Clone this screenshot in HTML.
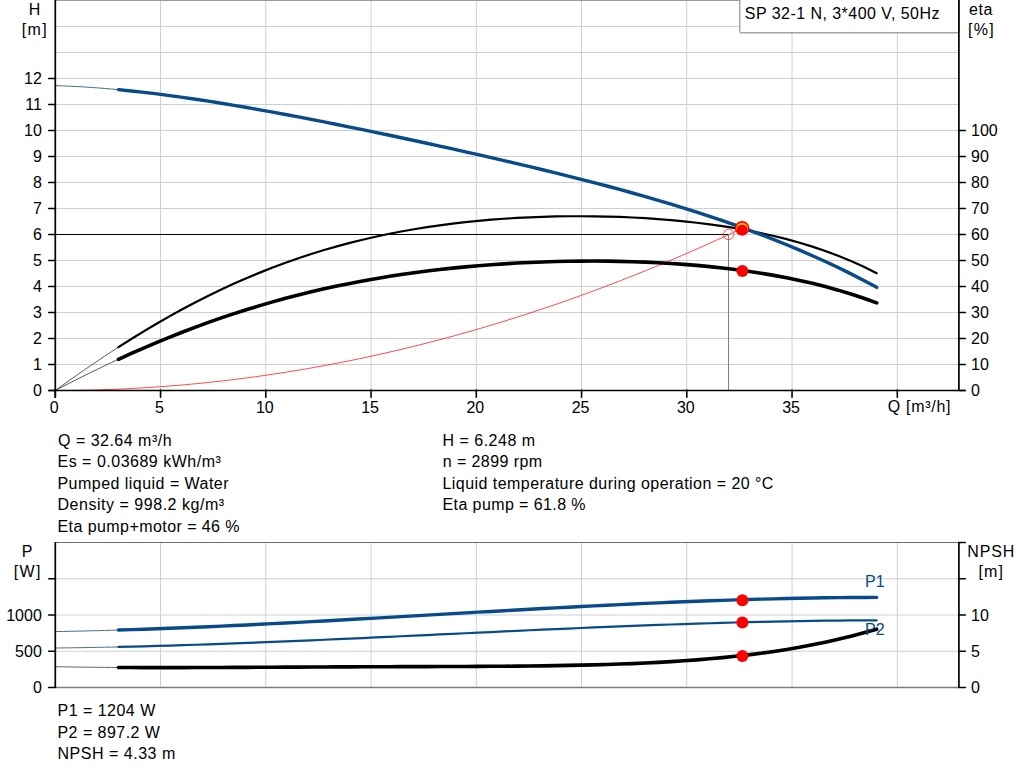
<!DOCTYPE html>
<html><head><meta charset="utf-8"><style>
html,body{margin:0;padding:0;background:#fff;width:1024px;height:781px;overflow:hidden}
svg{display:block}
text{font-family:"Liberation Sans", sans-serif}
</style></head><body>
<svg width="1024" height="781" viewBox="0 0 1024 781">
<line x1="160.55" y1="0" x2="160.55" y2="390" stroke="#cdd0d2" stroke-width="1"/>
<line x1="265.80" y1="0" x2="265.80" y2="390" stroke="#cdd0d2" stroke-width="1"/>
<line x1="371.05" y1="0" x2="371.05" y2="390" stroke="#cdd0d2" stroke-width="1"/>
<line x1="476.30" y1="0" x2="476.30" y2="390" stroke="#cdd0d2" stroke-width="1"/>
<line x1="581.55" y1="0" x2="581.55" y2="390" stroke="#cdd0d2" stroke-width="1"/>
<line x1="686.80" y1="0" x2="686.80" y2="390" stroke="#cdd0d2" stroke-width="1"/>
<line x1="792.05" y1="0" x2="792.05" y2="390" stroke="#cdd0d2" stroke-width="1"/>
<line x1="897.30" y1="0" x2="897.30" y2="390" stroke="#cdd0d2" stroke-width="1"/>
<line x1="55" y1="364.5" x2="959" y2="364.5" stroke="#cdd0d2" stroke-width="1"/>
<line x1="55" y1="338.5" x2="959" y2="338.5" stroke="#cdd0d2" stroke-width="1"/>
<line x1="55" y1="312.5" x2="959" y2="312.5" stroke="#cdd0d2" stroke-width="1"/>
<line x1="55" y1="286.5" x2="959" y2="286.5" stroke="#cdd0d2" stroke-width="1"/>
<line x1="55" y1="260.5" x2="959" y2="260.5" stroke="#cdd0d2" stroke-width="1"/>
<line x1="55" y1="234.5" x2="959" y2="234.5" stroke="#cdd0d2" stroke-width="1"/>
<line x1="55" y1="208.5" x2="959" y2="208.5" stroke="#cdd0d2" stroke-width="1"/>
<line x1="55" y1="182.5" x2="959" y2="182.5" stroke="#cdd0d2" stroke-width="1"/>
<line x1="55" y1="156.5" x2="959" y2="156.5" stroke="#cdd0d2" stroke-width="1"/>
<line x1="55" y1="130.5" x2="959" y2="130.5" stroke="#cdd0d2" stroke-width="1"/>
<line x1="55" y1="104.5" x2="959" y2="104.5" stroke="#cdd0d2" stroke-width="1"/>
<line x1="55" y1="78.5" x2="959" y2="78.5" stroke="#cdd0d2" stroke-width="1"/>
<line x1="55" y1="52.5" x2="959" y2="52.5" stroke="#cdd0d2" stroke-width="1"/>
<line x1="55" y1="26.5" x2="959" y2="26.5" stroke="#cdd0d2" stroke-width="1"/>
<line x1="55" y1="0.5" x2="959" y2="0.5" stroke="#999b9d" stroke-width="1"/>
<rect x="739.8" y="-2" width="219.2" height="34.8" rx="1.2" fill="#fff" stroke="#a2a3a4" stroke-width="1.4"/>
<text x="744.87" y="18.5" font-size="16" textLength="194.52" lengthAdjust="spacing">SP 32-1 N, 3*400 V, 50Hz</text>
<path d="M55.30,390.50 L64.00,390.47 L72.69,390.40 L81.39,390.27 L90.09,390.08 L98.79,389.85 L107.48,389.56 L116.18,389.23 L124.88,388.84 L133.57,388.39 L142.27,387.90 L150.97,387.35 L159.67,386.76 L168.36,386.11 L177.06,385.40 L185.76,384.65 L194.45,383.84 L203.15,382.98 L211.85,382.07 L220.55,381.11 L229.24,380.10 L237.94,379.03 L246.64,377.91 L255.33,376.74 L264.03,375.52 L272.73,374.25 L281.42,372.92 L290.12,371.54 L298.82,370.11 L307.52,368.63 L316.21,367.09 L324.91,365.51 L333.61,363.87 L342.30,362.18 L351.00,360.44 L359.70,358.64 L368.40,356.80 L377.09,354.90 L385.79,352.95 L394.49,350.95 L403.18,348.89 L411.88,346.78 L420.58,344.63 L429.28,342.42 L437.97,340.15 L446.67,337.84 L455.37,335.47 L464.06,333.05 L472.76,330.58 L481.46,328.06 L490.16,325.49 L498.85,322.86 L507.55,320.18 L516.25,317.45 L524.94,314.67 L533.64,311.83 L542.34,308.95 L551.04,306.01 L559.73,303.02 L568.43,299.97 L577.13,296.88 L585.82,293.73 L594.52,290.53 L603.22,287.28 L611.92,283.98 L620.61,280.63 L629.31,277.22 L638.01,273.76 L646.70,270.25 L655.40,266.69 L664.10,263.07 L672.80,259.40 L681.49,255.69 L690.19,251.91 L698.89,248.09 L707.58,244.22 L716.28,240.29 L724.98,236.31 L733.67,232.28 L742.37,228.20" fill="none" stroke="#ff2020" stroke-width="0.9" stroke-opacity="0.9"/>
<line x1="55" y1="234.5" x2="728.5" y2="234.5" stroke="#000" stroke-width="1"/>
<line x1="728.5" y1="234.5" x2="728.5" y2="390" stroke="#808080" stroke-width="1"/>
<circle cx="728.6" cy="234.5" r="5.2" fill="none" stroke="#ff4040" stroke-width="0.9"/>
<path d="M55.30,85.63 L62.32,85.87 L69.33,86.17 L76.35,86.52 L83.37,86.92 L90.38,87.38 L97.40,87.88 L104.42,88.44 L111.43,89.04 L118.45,89.68" fill="none" stroke="#3d5a7a" stroke-width="0.9"/>
<path d="M55.30,390.50 L62.32,385.45 L69.33,380.45 L76.35,375.51 L83.37,370.62 L90.38,365.80 L97.40,361.04 L104.42,356.34 L111.43,351.72 L118.45,347.16" fill="none" stroke="#444" stroke-width="0.9"/>
<path d="M55.30,390.50 L62.32,386.84 L69.33,383.23 L76.35,379.66 L83.37,376.14 L90.38,372.67 L97.40,369.25 L104.42,365.88 L111.43,362.56 L118.45,359.29" fill="none" stroke="#444" stroke-width="0.9"/>
<path d="M118.45,359.29 L131.30,353.45 L144.15,347.80 L157.00,342.33 L169.85,337.05 L182.71,331.97 L195.56,327.09 L208.41,322.40 L221.26,317.90 L234.11,313.61 L246.96,309.50 L259.81,305.60 L272.66,301.88 L285.52,298.35 L298.37,295.01 L311.22,291.85 L324.07,288.87 L336.92,286.07 L349.77,283.44 L362.62,280.98 L375.47,278.68 L388.33,276.54 L401.18,274.56 L414.03,272.73 L426.88,271.05 L439.73,269.51 L452.58,268.11 L465.43,266.84 L478.28,265.71 L491.13,264.71 L503.99,263.83 L516.84,263.07 L529.69,262.44 L542.54,261.93 L555.39,261.54 L568.24,261.26 L581.09,261.11 L593.94,261.07 L606.80,261.15 L619.65,261.36 L632.50,261.69 L645.35,262.15 L658.20,262.75 L671.05,263.49 L683.90,264.37 L696.75,265.40 L709.61,266.60 L722.46,267.96 L735.31,269.51 L748.16,271.25 L761.01,273.20 L773.86,275.37 L786.71,277.78 L799.56,280.44 L812.41,283.37 L825.27,286.60 L838.12,290.14 L850.97,294.01 L863.82,298.24 L876.67,302.86" fill="none" stroke="#000" stroke-width="3.6" stroke-linecap="round"/>
<path d="M118.45,347.16 L131.30,339.01 L144.15,331.12 L157.00,323.49 L169.85,316.13 L182.71,309.05 L195.56,302.26 L208.41,295.75 L221.26,289.53 L234.11,283.60 L246.96,277.96 L259.81,272.61 L272.66,267.55 L285.52,262.76 L298.37,258.26 L311.22,254.02 L324.07,250.06 L336.92,246.36 L349.77,242.91 L362.62,239.71 L375.47,236.75 L388.33,234.03 L401.18,231.53 L414.03,229.24 L426.88,227.17 L439.73,225.30 L452.58,223.63 L465.43,222.14 L478.28,220.84 L491.13,219.71 L503.99,218.74 L516.84,217.94 L529.69,217.30 L542.54,216.81 L555.39,216.47 L568.24,216.27 L581.09,216.23 L593.94,216.32 L606.80,216.57 L619.65,216.96 L632.50,217.51 L645.35,218.21 L658.20,219.07 L671.05,220.11 L683.90,221.32 L696.75,222.72 L709.61,224.33 L722.46,226.15 L735.31,228.21 L748.16,230.52 L761.01,233.10 L773.86,235.98 L786.71,239.18 L799.56,242.73 L812.41,246.66 L825.27,251.00 L838.12,255.79 L850.97,261.06 L863.82,266.86 L876.67,273.22" fill="none" stroke="#000" stroke-width="2.2" stroke-linecap="round"/>
<path d="M118.45,89.68 L131.30,90.97 L144.15,92.39 L157.00,93.93 L169.85,95.59 L182.71,97.36 L195.56,99.23 L208.41,101.19 L221.26,103.23 L234.11,105.35 L246.96,107.54 L259.81,109.80 L272.66,112.12 L285.52,114.50 L298.37,116.92 L311.22,119.39 L324.07,121.91 L336.92,124.46 L349.77,127.06 L362.62,129.68 L375.47,132.34 L388.33,135.03 L401.18,137.75 L414.03,140.50 L426.88,143.28 L439.73,146.09 L452.58,148.92 L465.43,151.79 L478.28,154.69 L491.13,157.62 L503.99,160.58 L516.84,163.59 L529.69,166.64 L542.54,169.73 L555.39,172.87 L568.24,176.06 L581.09,179.31 L593.94,182.63 L606.80,186.01 L619.65,189.47 L632.50,193.01 L645.35,196.63 L658.20,200.36 L671.05,204.18 L683.90,208.12 L696.75,212.17 L709.61,216.36 L722.46,220.68 L735.31,225.15 L748.16,229.79 L761.01,234.58 L773.86,239.56 L786.71,244.73 L799.56,250.11 L812.41,255.70 L825.27,261.52 L838.12,267.58 L850.97,273.90 L863.82,280.49 L876.67,287.36" fill="none" stroke="#084a8a" stroke-width="3.4" stroke-linecap="round"/>
<circle cx="742.1" cy="228.2" r="7.3" fill="#ff0000"/>
<circle cx="742.1" cy="228.5" r="5.8" fill="#ffe000"/>
<circle cx="742.1" cy="230.0" r="5.6" fill="#ff0000"/>
<circle cx="742.37" cy="270.90" r="6" fill="#ff0000"/>
<line x1="55.3" y1="0" x2="55.3" y2="397.2" stroke="#000" stroke-width="1.7" stroke-linecap="round"/>
<line x1="958.9" y1="0" x2="958.9" y2="390.5" stroke="#000" stroke-width="1.7"/>
<line x1="48.7" y1="390.5" x2="965.3" y2="390.5" stroke="#000" stroke-width="1.5" stroke-linecap="round"/>
<line x1="48.7" y1="390.5" x2="55" y2="390.5" stroke="#000" stroke-width="1.6" stroke-linecap="round"/>
<text x="41.8" y="396.30" font-size="16" text-anchor="end">0</text>
<line x1="48.7" y1="364.5" x2="55" y2="364.5" stroke="#000" stroke-width="1.6" stroke-linecap="round"/>
<text x="41.8" y="370.30" font-size="16" text-anchor="end">1</text>
<line x1="48.7" y1="338.5" x2="55" y2="338.5" stroke="#000" stroke-width="1.6" stroke-linecap="round"/>
<text x="41.8" y="344.30" font-size="16" text-anchor="end">2</text>
<line x1="48.7" y1="312.5" x2="55" y2="312.5" stroke="#000" stroke-width="1.6" stroke-linecap="round"/>
<text x="41.8" y="318.30" font-size="16" text-anchor="end">3</text>
<line x1="48.7" y1="286.5" x2="55" y2="286.5" stroke="#000" stroke-width="1.6" stroke-linecap="round"/>
<text x="41.8" y="292.30" font-size="16" text-anchor="end">4</text>
<line x1="48.7" y1="260.5" x2="55" y2="260.5" stroke="#000" stroke-width="1.6" stroke-linecap="round"/>
<text x="41.8" y="266.30" font-size="16" text-anchor="end">5</text>
<line x1="48.7" y1="234.5" x2="55" y2="234.5" stroke="#000" stroke-width="1.6" stroke-linecap="round"/>
<text x="41.8" y="240.30" font-size="16" text-anchor="end">6</text>
<line x1="48.7" y1="208.5" x2="55" y2="208.5" stroke="#000" stroke-width="1.6" stroke-linecap="round"/>
<text x="41.8" y="214.30" font-size="16" text-anchor="end">7</text>
<line x1="48.7" y1="182.5" x2="55" y2="182.5" stroke="#000" stroke-width="1.6" stroke-linecap="round"/>
<text x="41.8" y="188.30" font-size="16" text-anchor="end">8</text>
<line x1="48.7" y1="156.5" x2="55" y2="156.5" stroke="#000" stroke-width="1.6" stroke-linecap="round"/>
<text x="41.8" y="162.30" font-size="16" text-anchor="end">9</text>
<line x1="48.7" y1="130.5" x2="55" y2="130.5" stroke="#000" stroke-width="1.6" stroke-linecap="round"/>
<text x="41.8" y="136.30" font-size="16" text-anchor="end">10</text>
<line x1="48.7" y1="104.5" x2="55" y2="104.5" stroke="#000" stroke-width="1.6" stroke-linecap="round"/>
<text x="41.8" y="110.30" font-size="16" text-anchor="end">11</text>
<line x1="48.7" y1="78.5" x2="55" y2="78.5" stroke="#000" stroke-width="1.6" stroke-linecap="round"/>
<text x="41.8" y="84.30" font-size="16" text-anchor="end">12</text>
<line x1="959" y1="390.5" x2="965.3" y2="390.5" stroke="#000" stroke-width="1.6" stroke-linecap="round"/>
<text x="971" y="396.30" font-size="16">0</text>
<line x1="959" y1="364.5" x2="965.3" y2="364.5" stroke="#000" stroke-width="1.6" stroke-linecap="round"/>
<text x="971" y="370.30" font-size="16">10</text>
<line x1="959" y1="338.5" x2="965.3" y2="338.5" stroke="#000" stroke-width="1.6" stroke-linecap="round"/>
<text x="971" y="344.30" font-size="16">20</text>
<line x1="959" y1="312.5" x2="965.3" y2="312.5" stroke="#000" stroke-width="1.6" stroke-linecap="round"/>
<text x="971" y="318.30" font-size="16">30</text>
<line x1="959" y1="286.5" x2="965.3" y2="286.5" stroke="#000" stroke-width="1.6" stroke-linecap="round"/>
<text x="971" y="292.30" font-size="16">40</text>
<line x1="959" y1="260.5" x2="965.3" y2="260.5" stroke="#000" stroke-width="1.6" stroke-linecap="round"/>
<text x="971" y="266.30" font-size="16">50</text>
<line x1="959" y1="234.5" x2="965.3" y2="234.5" stroke="#000" stroke-width="1.6" stroke-linecap="round"/>
<text x="971" y="240.30" font-size="16">60</text>
<line x1="959" y1="208.5" x2="965.3" y2="208.5" stroke="#000" stroke-width="1.6" stroke-linecap="round"/>
<text x="971" y="214.30" font-size="16">70</text>
<line x1="959" y1="182.5" x2="965.3" y2="182.5" stroke="#000" stroke-width="1.6" stroke-linecap="round"/>
<text x="971" y="188.30" font-size="16">80</text>
<line x1="959" y1="156.5" x2="965.3" y2="156.5" stroke="#000" stroke-width="1.6" stroke-linecap="round"/>
<text x="971" y="162.30" font-size="16">90</text>
<line x1="959" y1="130.5" x2="965.3" y2="130.5" stroke="#000" stroke-width="1.6" stroke-linecap="round"/>
<text x="971" y="136.30" font-size="16">100</text>
<line x1="55.30" y1="390" x2="55.30" y2="397.2" stroke="#000" stroke-width="1.6" stroke-linecap="round"/>
<text x="54.30" y="412.5" font-size="16" text-anchor="middle">0</text>
<line x1="160.55" y1="390" x2="160.55" y2="397.2" stroke="#000" stroke-width="1.6" stroke-linecap="round"/>
<text x="159.55" y="412.5" font-size="16" text-anchor="middle">5</text>
<line x1="265.80" y1="390" x2="265.80" y2="397.2" stroke="#000" stroke-width="1.6" stroke-linecap="round"/>
<text x="264.80" y="412.5" font-size="16" text-anchor="middle">10</text>
<line x1="371.05" y1="390" x2="371.05" y2="397.2" stroke="#000" stroke-width="1.6" stroke-linecap="round"/>
<text x="370.05" y="412.5" font-size="16" text-anchor="middle">15</text>
<line x1="476.30" y1="390" x2="476.30" y2="397.2" stroke="#000" stroke-width="1.6" stroke-linecap="round"/>
<text x="475.30" y="412.5" font-size="16" text-anchor="middle">20</text>
<line x1="581.55" y1="390" x2="581.55" y2="397.2" stroke="#000" stroke-width="1.6" stroke-linecap="round"/>
<text x="580.55" y="412.5" font-size="16" text-anchor="middle">25</text>
<line x1="686.80" y1="390" x2="686.80" y2="397.2" stroke="#000" stroke-width="1.6" stroke-linecap="round"/>
<text x="685.80" y="412.5" font-size="16" text-anchor="middle">30</text>
<line x1="792.05" y1="390" x2="792.05" y2="397.2" stroke="#000" stroke-width="1.6" stroke-linecap="round"/>
<text x="791.05" y="412.5" font-size="16" text-anchor="middle">35</text>
<line x1="897.30" y1="390" x2="897.30" y2="397.2" stroke="#000" stroke-width="1.6" stroke-linecap="round"/>
<text x="887.64" y="412.2" font-size="16" textLength="62.90" lengthAdjust="spacing">Q [m³/h]</text>
<text x="28.82" y="14.7" font-size="16" textLength="11.55" lengthAdjust="spacing">H</text>
<text x="21.86" y="34.6" font-size="16" textLength="24.78" lengthAdjust="spacing">[m]</text>
<text x="969.02" y="14.7" font-size="16" textLength="23.48" lengthAdjust="spacing">eta</text>
<text x="968.06" y="34.6" font-size="16" textLength="25.58" lengthAdjust="spacing">[%]</text>
<text x="58.04" y="445.5" font-size="16" textLength="113.50" lengthAdjust="spacing">Q = 32.64 m³/h</text>
<text x="57.49" y="466.9" font-size="16" textLength="163.32" lengthAdjust="spacing">Es = 0.03689 kWh/m³</text>
<text x="57.49" y="488.5" font-size="16" textLength="171.08" lengthAdjust="spacing">Pumped liquid = Water</text>
<text x="57.49" y="510.0" font-size="16" textLength="166.62" lengthAdjust="spacing">Density = 998.2 kg/m³</text>
<text x="57.49" y="531.7" font-size="16" textLength="182.08" lengthAdjust="spacing">Eta pump+motor = 46 %</text>
<text x="442.49" y="445.5" font-size="16" textLength="92.57" lengthAdjust="spacing">H = 6.248 m</text>
<text x="442.74" y="466.9" font-size="16" textLength="99.32" lengthAdjust="spacing">n = 2899 rpm</text>
<text x="442.49" y="488.5" font-size="16" textLength="330.92" lengthAdjust="spacing">Liquid temperature during operation = 20 °C</text>
<text x="442.49" y="510.0" font-size="16" textLength="143.08" lengthAdjust="spacing">Eta pump = 61.8 %</text>
<line x1="160.55" y1="542.5" x2="160.55" y2="687" stroke="#cdd0d2" stroke-width="1"/>
<line x1="265.80" y1="542.5" x2="265.80" y2="687" stroke="#cdd0d2" stroke-width="1"/>
<line x1="371.05" y1="542.5" x2="371.05" y2="687" stroke="#cdd0d2" stroke-width="1"/>
<line x1="476.30" y1="542.5" x2="476.30" y2="687" stroke="#cdd0d2" stroke-width="1"/>
<line x1="581.55" y1="542.5" x2="581.55" y2="687" stroke="#cdd0d2" stroke-width="1"/>
<line x1="686.80" y1="542.5" x2="686.80" y2="687" stroke="#cdd0d2" stroke-width="1"/>
<line x1="792.05" y1="542.5" x2="792.05" y2="687" stroke="#cdd0d2" stroke-width="1"/>
<line x1="897.30" y1="542.5" x2="897.30" y2="687" stroke="#cdd0d2" stroke-width="1"/>
<line x1="55" y1="651.25" x2="959" y2="651.25" stroke="#cdd0d2" stroke-width="1"/>
<line x1="55" y1="615.0" x2="959" y2="615.0" stroke="#cdd0d2" stroke-width="1"/>
<line x1="55" y1="578.75" x2="959" y2="578.75" stroke="#cdd0d2" stroke-width="1"/>
<line x1="55" y1="542.5" x2="959" y2="542.5" stroke="#6a6d6f" stroke-width="1.2"/>
<line x1="55" y1="687.5" x2="959" y2="687.5" stroke="#7a7c7e" stroke-width="1.4"/>
<path d="M55.30,631.59 L62.32,631.46 L69.33,631.32 L76.35,631.17 L83.37,631.01 L90.38,630.84 L97.40,630.66 L104.42,630.47 L111.43,630.27 L118.45,630.07" fill="none" stroke="#3d5a7a" stroke-width="0.9"/>
<path d="M55.30,648.02 L62.32,647.93 L69.33,647.83 L76.35,647.73 L83.37,647.61 L90.38,647.49 L97.40,647.36 L104.42,647.22 L111.43,647.08 L118.45,646.92" fill="none" stroke="#3d5a7a" stroke-width="0.9"/>
<path d="M55.30,666.71 L62.32,666.84 L69.33,666.96 L76.35,667.06 L83.37,667.16 L90.38,667.24 L97.40,667.31 L104.42,667.38 L111.43,667.43 L118.45,667.48" fill="none" stroke="#555" stroke-width="0.9"/>
<path d="M118.45,630.07 L131.30,629.67 L144.15,629.24 L157.00,628.78 L169.85,628.30 L182.71,627.80 L195.56,627.27 L208.41,626.72 L221.26,626.15 L234.11,625.55 L246.96,624.94 L259.81,624.32 L272.66,623.67 L285.52,623.02 L298.37,622.34 L311.22,621.66 L324.07,620.96 L336.92,620.26 L349.77,619.54 L362.62,618.82 L375.47,618.09 L388.33,617.36 L401.18,616.62 L414.03,615.88 L426.88,615.14 L439.73,614.39 L452.58,613.65 L465.43,612.91 L478.28,612.17 L491.13,611.44 L503.99,610.71 L516.84,609.99 L529.69,609.28 L542.54,608.57 L555.39,607.88 L568.24,607.20 L581.09,606.53 L593.94,605.87 L606.80,605.23 L619.65,604.61 L632.50,604.00 L645.35,603.42 L658.20,602.85 L671.05,602.30 L683.90,601.78 L696.75,601.28 L709.61,600.80 L722.46,600.35 L735.31,599.92 L748.16,599.53 L761.01,599.16 L773.86,598.83 L786.71,598.53 L799.56,598.26 L812.41,598.02 L825.27,597.82 L838.12,597.66 L850.97,597.53 L863.82,597.45 L876.67,597.40" fill="none" stroke="#084a8a" stroke-width="3.4" stroke-linecap="round"/>
<path d="M118.45,646.92 L131.30,646.62 L144.15,646.30 L157.00,645.95 L169.85,645.58 L182.71,645.18 L195.56,644.77 L208.41,644.34 L221.26,643.89 L234.11,643.43 L246.96,642.94 L259.81,642.45 L272.66,641.94 L285.52,641.41 L298.37,640.87 L311.22,640.33 L324.07,639.77 L336.92,639.20 L349.77,638.62 L362.62,638.04 L375.47,637.45 L388.33,636.86 L401.18,636.26 L414.03,635.66 L426.88,635.05 L439.73,634.45 L452.58,633.84 L465.43,633.24 L478.28,632.64 L491.13,632.04 L503.99,631.44 L516.84,630.85 L529.69,630.26 L542.54,629.68 L555.39,629.11 L568.24,628.55 L581.09,628.00 L593.94,627.46 L606.80,626.93 L619.65,626.41 L632.50,625.91 L645.35,625.42 L658.20,624.95 L671.05,624.49 L683.90,624.05 L696.75,623.63 L709.61,623.23 L722.46,622.85 L735.31,622.50 L748.16,622.16 L761.01,621.85 L773.86,621.56 L786.71,621.30 L799.56,621.07 L812.41,620.86 L825.27,620.69 L838.12,620.54 L850.97,620.42 L863.82,620.34 L876.67,620.28" fill="none" stroke="#084a8a" stroke-width="2.2" stroke-linecap="round"/>
<path d="M118.45,667.48 L131.30,667.54 L144.15,667.58 L157.00,667.60 L169.85,667.60 L182.71,667.58 L195.56,667.55 L208.41,667.51 L221.26,667.46 L234.11,667.40 L246.96,667.34 L259.81,667.27 L272.66,667.21 L285.52,667.14 L298.37,667.08 L311.22,667.01 L324.07,666.95 L336.92,666.90 L349.77,666.84 L362.62,666.79 L375.47,666.75 L388.33,666.70 L401.18,666.66 L414.03,666.62 L426.88,666.58 L439.73,666.54 L452.58,666.49 L465.43,666.44 L478.28,666.38 L491.13,666.30 L503.99,666.21 L516.84,666.11 L529.69,665.98 L542.54,665.83 L555.39,665.64 L568.24,665.42 L581.09,665.16 L593.94,664.85 L606.80,664.49 L619.65,664.07 L632.50,663.58 L645.35,663.02 L658.20,662.38 L671.05,661.64 L683.90,660.81 L696.75,659.87 L709.61,658.82 L722.46,657.63 L735.31,656.31 L748.16,654.84 L761.01,653.21 L773.86,651.41 L786.71,649.42 L799.56,647.24 L812.41,644.84 L825.27,642.22 L838.12,639.36 L850.97,636.24 L863.82,632.85 L876.67,629.18" fill="none" stroke="#000" stroke-width="3.6" stroke-linecap="round"/>
<circle cx="742.37" cy="600.21" r="6" fill="#ff0000"/>
<circle cx="742.37" cy="622.45" r="6" fill="#ff0000"/>
<circle cx="742.37" cy="656.11" r="6" fill="#ff0000"/>
<text x="865" y="586.5" font-size="16" fill="#084a8a">P1</text>
<text x="865" y="634.5" font-size="16" fill="#084a8a">P2</text>
<line x1="55.3" y1="542" x2="55.3" y2="688" stroke="#000" stroke-width="1.7"/>
<line x1="958.9" y1="542" x2="958.9" y2="688" stroke="#000" stroke-width="1.7"/>
<line x1="48.7" y1="687.5" x2="55" y2="687.5" stroke="#000" stroke-width="1.6" stroke-linecap="round"/>
<line x1="959" y1="687.5" x2="965.3" y2="687.5" stroke="#000" stroke-width="1.6" stroke-linecap="round"/>
<line x1="48.7" y1="651.25" x2="55" y2="651.25" stroke="#000" stroke-width="1.6" stroke-linecap="round"/>
<line x1="959" y1="651.25" x2="965.3" y2="651.25" stroke="#000" stroke-width="1.6" stroke-linecap="round"/>
<line x1="48.7" y1="615.0" x2="55" y2="615.0" stroke="#000" stroke-width="1.6" stroke-linecap="round"/>
<line x1="959" y1="615.0" x2="965.3" y2="615.0" stroke="#000" stroke-width="1.6" stroke-linecap="round"/>
<line x1="48.7" y1="578.75" x2="55" y2="578.75" stroke="#000" stroke-width="1.6" stroke-linecap="round"/>
<line x1="959" y1="578.75" x2="965.3" y2="578.75" stroke="#000" stroke-width="1.6" stroke-linecap="round"/>
<line x1="959" y1="542.5" x2="965.3" y2="542.5" stroke="#000" stroke-width="1.6" stroke-linecap="round"/>
<text x="41.8" y="693.30" font-size="16" text-anchor="end">0</text>
<text x="41.8" y="657.05" font-size="16" text-anchor="end">500</text>
<text x="41.8" y="620.80" font-size="16" text-anchor="end">1000</text>
<text x="971" y="693.30" font-size="16">0</text>
<text x="971" y="657.05" font-size="16">5</text>
<text x="971" y="620.80" font-size="16">10</text>
<text x="21.83" y="556.7" font-size="16" textLength="10.67" lengthAdjust="spacing">P</text>
<text x="13.86" y="576.8" font-size="16" textLength="26.58" lengthAdjust="spacing">[W]</text>
<text x="967.29" y="556.6" font-size="16" textLength="47.02" lengthAdjust="spacing">NPSH</text>
<text x="978.46" y="577.0" font-size="16" textLength="24.48" lengthAdjust="spacing">[m]</text>
<text x="57.49" y="715.8" font-size="16" textLength="97.77" lengthAdjust="spacing">P1 = 1204 W</text>
<text x="57.49" y="737.5" font-size="16" textLength="102.47" lengthAdjust="spacing">P2 = 897.2 W</text>
<text x="57.49" y="759.0" font-size="16" textLength="117.77" lengthAdjust="spacing">NPSH = 4.33 m</text>
</svg></body></html>
